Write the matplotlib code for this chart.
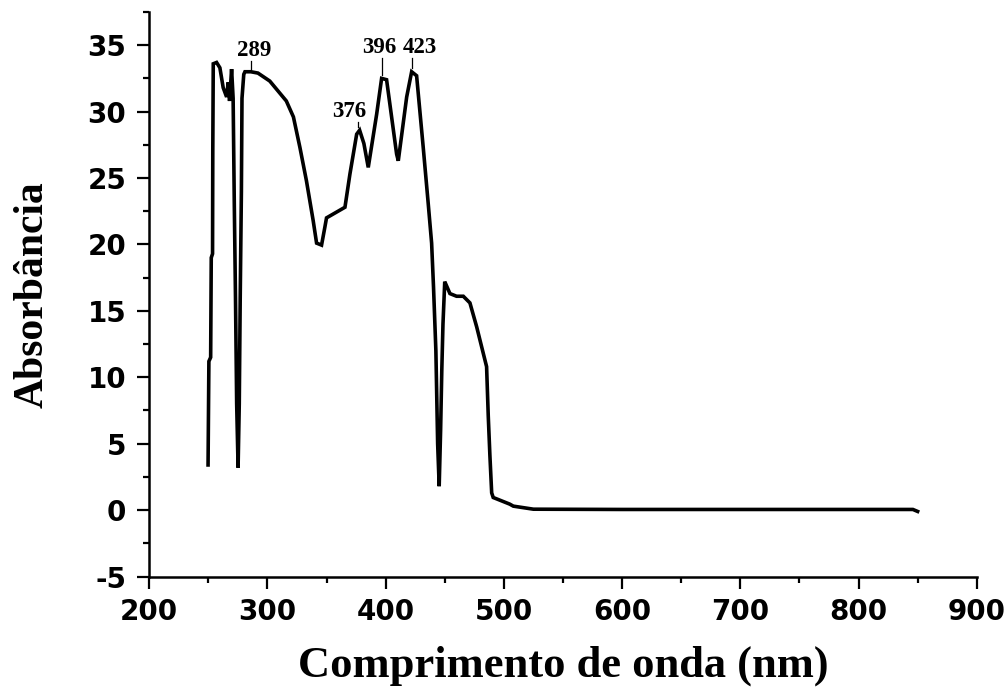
import matplotlib
matplotlib.use("Agg")
import matplotlib.pyplot as plt
from matplotlib.ticker import MultipleLocator

plt.rcParams["axes.unicode_minus"] = False

# comprimento de onda (nm) e absorbancia
wl = [249.8, 250.5, 252.0, 252.5, 253.6, 253.8, 254.2, 257.0, 259.8, 262.6,
      265.5, 266.8, 268.0, 269.7, 271.0, 272.0, 273.0, 274.0, 275.2, 276.2,
      277.0, 278.0, 278.5, 280.0, 281.0, 286.0, 292.0, 302.0, 316.0, 322.0,
      327.5, 333.0, 338.7, 341.6, 345.8, 348.6, 350.0, 365.6, 369.8, 375.5,
      378.0, 381.6, 385.3, 392.4, 396.6, 400.8, 409.3, 410.7, 417.8, 422.0,
      426.2, 431.8, 436.0, 438.9, 440.5, 442.5, 444.0, 445.3, 446.5, 447.5,
      448.5, 450.0, 454.4, 460.0, 465.7, 471.3, 477.0, 482.6, 485.4, 486.8,
      488.2, 489.7, 491.0, 505.0, 508.0, 525.0, 600.0, 700.0, 800.0, 846.0,
      850.0]
absorb = [3.4, 11.2, 11.5, 19.0, 19.3, 27.0, 33.6, 33.7, 33.3, 31.8,
          31.1, 32.2, 30.8, 33.2, 31.0, 23.0, 16.0, 8.0, 3.2, 8.0,
          16.0, 24.0, 31.0, 32.8, 33.0, 33.0, 32.9, 32.3, 30.8, 29.6,
          27.3, 24.8, 21.8, 20.1, 19.95, 21.3, 22.0, 22.8, 25.3, 28.3,
          28.6, 27.6, 25.8, 29.8, 32.5, 32.4, 26.8, 26.3, 31.1, 33.0,
          32.7, 27.3, 23.1, 20.1, 16.8, 12.0, 5.0, 1.8, 6.0, 10.5,
          14.0, 17.2, 16.3, 16.1, 16.1, 15.6, 13.8, 11.8, 10.8, 7.1,
          4.1, 1.3, 0.95, 0.45, 0.3, 0.07, 0.05, 0.05, 0.05, 0.05,
          -0.1]

# picos marcados
pico_txt = ["289", "376", "396", "423"]
pico_x = [286.5, 376.8, 396.9, 422.2]
pico_y = [33.0, 28.7, 32.6, 33.1]
txt_x = [289.0, 369.5, 395.0, 429.0]
txt_y = [33.8, 29.2, 34.0, 34.0]

fig = plt.figure(figsize=(10.08, 6.88), dpi=100)
ax = fig.add_axes([0.148, 0.162, 0.821, 0.8206])

ax.plot(wl, absorb, color="black", lw=2.6, solid_joinstyle="miter")

for t, px, py, tx, ty in zip(pico_txt, pico_x, pico_y, txt_x, txt_y):
    ax.text(tx, ty, t, ha="center", va="bottom", fontsize=16.5,
            fontweight="bold", family="Liberation Serif")
    ax.plot([px, px], [py + 0.15, ty], color="black", lw=0.9)

ax.set_xlim(200, 900)
ax.set_ylim(-5, 37.5)
ax.xaxis.set_major_locator(MultipleLocator(100))
ax.xaxis.set_minor_locator(MultipleLocator(50))
ax.yaxis.set_major_locator(MultipleLocator(5))
ax.yaxis.set_minor_locator(MultipleLocator(2.5))

for s in ["top", "right"]:
    ax.spines[s].set_visible(False)
for s in ["left", "bottom"]:
    ax.spines[s].set_linewidth(1.8)

ax.tick_params(which="major", length=8.5, width=1.6, direction="out")
ax.tick_params(axis="x", which="major", pad=7)
ax.tick_params(axis="y", which="major", pad=8)
ax.tick_params(which="minor", length=4.5, width=1.6, direction="out")
for lab in ax.get_xticklabels() + ax.get_yticklabels():
    lab.set_family("DejaVu Sans")
    lab.set_fontweight("bold")
    lab.set_fontsize(20)

ax.set_xlabel("Comprimento de onda (nm)", fontsize=32, fontweight="bold",
              family="Liberation Serif", labelpad=14)
ax.set_ylabel("Absorbância", fontsize=30, fontweight="bold",
              family="Liberation Serif", labelpad=26)

fig.savefig("out.png", dpi=100)
